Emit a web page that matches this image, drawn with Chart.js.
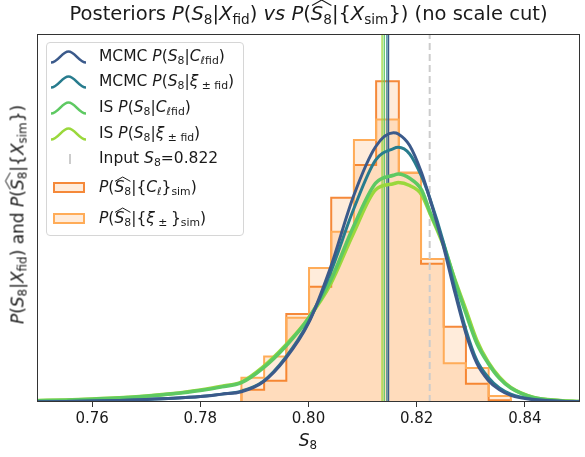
<!DOCTYPE html>
<html>
<head>
<meta charset="utf-8">
<script src="https://cdn.jsdelivr.net/npm/chart.js@4.4.1/dist/chart.umd.min.js"></script>
<style>
html, body { margin: 0; padding: 0; background: #fff; }
#wrap { position: relative; width: 585px; height: 457px; font-family: "DejaVu Sans", sans-serif; color: #1a1a1a; }
#chart { position: absolute; left: 0; top: 0; }
.txt { position: absolute; white-space: nowrap; line-height: 1; }
sub { font-size: 70%; vertical-align: -0.28em; line-height: 0; }
.hat { position: relative; display: inline-block; }
.hat svg { position: absolute; left: 4%; top: -0.22em; width: 92%; height: 0.28em; overflow: visible; }
#title { left: 38px; width: 541px; top: 4px; text-align: center; font-size: 19.5px; }
#ylabel { left: -182px; width: 400px; top: 206px; text-align: center; font-size: 17px; transform: rotate(-90deg); }
#xlabel { left: 258px; width: 100px; top: 432px; text-align: center; font-size: 17px; }
#legend { position: absolute; left: 46px; top: 42px; width: 196px; height: 192px; border: 1px solid #d6d6d6; border-radius: 4px; background: rgba(255,255,255,0.8); font-size: 15.5px; }
.row { position: absolute; left: 0; width: 196px; height: 0; }
.row .lab { position: absolute; left: 52px; top: -8px; white-space: nowrap; line-height: 1; }
.row svg.bell { position: absolute; left: 4px; top: -6px; width: 35px; height: 12px; overflow: visible; }
.row .tick { position: absolute; left: 22px; top: -5px; width: 2px; height: 10px; background: #cccccc; }
.row .box { position: absolute; left: 6px; top: -6px; width: 28px; height: 7px; border: 2.5px solid; }
</style>
</head>
<body>
<div id="wrap">
  <canvas id="chart" width="585" height="457"></canvas>
  <div class="txt" id="title">Posteriors <i>P</i>(<i>S</i><sub>8</sub>|<i>X</i><sub>fid</sub>) <i>vs</i> <i>P</i>(<span class="hat"><i>S</i><sub>8</sub><svg viewBox="0 0 20 6" preserveAspectRatio="none"><polyline points="0,6 10,0 20,6" fill="none" stroke="#1a1a1a" stroke-width="1.1" vector-effect="non-scaling-stroke"/></svg></span>|{<i>X</i><sub>sim</sub>}) (no scale cut)</div>
  <div class="txt" id="ylabel"><i>P</i>(<i>S</i><sub>8</sub>|<i>X</i><sub>fid</sub>) and <i>P</i>(<span class="hat"><i>S</i><sub>8</sub><svg viewBox="0 0 20 6" preserveAspectRatio="none"><polyline points="0,6 10,0 20,6" fill="none" stroke="#1a1a1a" stroke-width="1" vector-effect="non-scaling-stroke"/></svg></span>|{<i>X</i><sub>sim</sub>})</div>
  <div class="txt" id="xlabel"><i>S</i><sub>8</sub></div>
  <div id="legend"></div>
</div>
<script>
// S8 grid the posterior curves were read on
const s8Grid = [0.750, 0.755, 0.760, 0.765, 0.770, 0.775, 0.780, 0.784, 0.7876, 0.7916,
  0.7958, 0.800, 0.804, 0.8083, 0.8124, 0.8157, 0.8166, 0.8187, 0.8209, 0.8224,
  0.8249, 0.8271, 0.8291, 0.8311, 0.8332, 0.8353, 0.8374, 0.8415, 0.8465, 0.850];
const mcmcCl = [0.05, 0.08, 0.15, 0.25, 0.4, 0.6, 0.9, 1.3, 1.7, 3.3,
  7.2, 13.0, 22.0, 33.9, 42.1, 44.4, 44.2, 42.3, 37.8, 33.6,
  25.8, 17.9, 11.3, 6.4, 3.6, 2.0, 1.1, 0.4, 0.12, 0.05];
const mcmcXi = [0.05, 0.08, 0.15, 0.25, 0.4, 0.6, 0.9, 1.3, 1.8, 3.4,
  7.4, 13.2, 21.2, 31.7, 39.9, 41.8, 42.0, 40.9, 37.2, 33.7,
  26.5, 18.5, 11.9, 6.9, 4.1, 2.3, 1.3, 0.45, 0.14, 0.05];
const isCl = [0.2, 0.3, 0.45, 0.65, 0.95, 1.35, 1.9, 2.5, 3.2, 5.6,
  9.2, 13.8, 19.9, 28.9, 36.1, 37.4, 37.6, 36.9, 35.0, 31.5,
  26.2, 19.9, 14.6, 9.7, 6.4, 3.9, 2.3, 0.75, 0.22, 0.08];
const isXi = [0.25, 0.35, 0.5, 0.7, 1.0, 1.4, 2.0, 2.6, 3.3, 5.8,
  9.4, 13.8, 19.3, 27.8, 35.0, 36.0, 36.2, 35.7, 34.2, 31.2,
  25.9, 20.1, 15.2, 10.2, 6.6, 4.1, 2.4, 0.8, 0.25, 0.1];

// histograms of S8 estimated from the simulations (density)
const binEdges = [0.7876, 0.7918, 0.7959, 0.8001, 0.8042, 0.8084, 0.8125,
  0.8167, 0.8208, 0.8250, 0.8291, 0.8333, 0.8374];
const histCl = [2.0, 3.5, 14.5, 19.0, 33.7, 39.1, 52.9, 37.8, 22.8, 12.4, 3.0, 0.3];
const histXi = [4.0, 7.5, 13.9, 22.1, 28.1, 43.2, 46.6, 37.8, 23.6, 6.4, 5.6, 1.0];

// posterior means and the input value
const meanMcmcCl = 0.8148;
const meanMcmcXi = 0.8145;
const meanIsCl = 0.8140;
const meanIsXi = 0.8136;
const inputS8 = 0.8224;

const xTicks = [0.76, 0.78, 0.80, 0.82, 0.84];
const xMin = 0.75, xMax = 0.85, yMax = 60.7;

const colMcmcCl = '#3b5a8b';
const colMcmcXi = '#287c8e';
const colIsCl = '#5ec962';
const colIsXi = '#9ad83c';
const edgeCl = '#f5893a';
const edgeXi = '#ffac58';
const histFill = 'rgba(255,127,14,0.15)';

const curve = (label, ys, color, w) => ({
  label, data: s8Grid.map((x, i) => ({x, y: ys[i]})),
  borderColor: color, borderWidth: w, pointRadius: 0, fill: false,
  cubicInterpolationMode: 'monotone', order: 0
});
const vline = (label, x, color, w, dash) => ({
  label, data: [{x, y: 0}, {x, y: yMax}],
  borderColor: color, borderWidth: w, borderDash: dash || [], pointRadius: 0, fill: false, order: 1
});
const hist = (label, h, edge, ord) => {
  const pts = [{x: binEdges[0], y: 0}];
  h.forEach((v, i) => pts.push({x: binEdges[i], y: v}));
  pts.push({x: binEdges[binEdges.length - 1], y: 0});
  return {label, data: pts, stepped: true, borderColor: edge, borderWidth: 2,
    backgroundColor: histFill, fill: 'origin', pointRadius: 0, order: ord};
};

const frame = {
  id: 'frame',
  afterDatasetsDraw(chart) {
    const a = chart.chartArea, ctx = chart.ctx;
    ctx.save();
    ctx.strokeStyle = '#333';
    ctx.lineWidth = 1;
    ctx.strokeRect(Math.round(a.left) - 0.5, Math.round(a.top) + 0.5,
      Math.round(a.right - a.left) + 1, Math.round(a.bottom - a.top) - 1);
    ctx.restore();
  }
};

new Chart(document.getElementById('chart').getContext('2d'), {
  type: 'line',
  data: {
    datasets: [
      curve('MCMC P(S8|Cl fid)', mcmcCl, colMcmcCl, 3),
      curve('MCMC P(S8|xi fid)', mcmcXi, colMcmcXi, 3),
      curve('IS P(S8|Cl fid)', isCl, colIsCl, 3.5),
      curve('IS P(S8|xi fid)', isXi, colIsXi, 3.5),
      vline('mean MCMC Cl', meanMcmcCl, colMcmcCl, 1.3),
      vline('mean MCMC xi', meanMcmcXi, colMcmcXi, 1.3),
      vline('mean IS Cl', meanIsCl, colIsCl, 1.3),
      vline('mean IS xi', meanIsXi, colIsXi, 1.3),
      Object.assign(vline('Input S8=0.822', inputS8, '#cccccc', 2, [7, 4]), {order: 2}),
      hist('P(S8^|{Cl}sim)', histCl, edgeCl, 4),
      hist('P(S8^|{xi}sim)', histXi, edgeXi, 3)
    ]
  },
  options: {
    responsive: false,
    animation: false,
    layout: {padding: {left: 38, right: 6, top: 34, bottom: 0}},
    plugins: {legend: {display: false}, tooltip: {enabled: false}},
    scales: {
      x: {
        type: 'linear', min: xMin, max: xMax,
        afterBuildTicks: s => { s.ticks = xTicks.map(v => ({value: v})); },
        afterFit: s => { s.height = 55; },
        grid: {drawOnChartArea: false, drawTicks: true, tickLength: 5, tickColor: '#333', tickWidth: 1},
        border: {display: false},
        ticks: {color: '#1a1a1a', padding: 3, font: {family: 'DejaVu Sans', size: 15},
          callback: v => v.toFixed(2)}
      },
      y: {type: 'linear', min: 0, max: yMax, display: false}
    }
  },
  plugins: [frame]
});

// legend, drawn as html so the maths can be formatted
const hatS8 = '<span class="hat"><i>S</i><sub>8</sub><svg viewBox="0 0 20 6" preserveAspectRatio="none"><polyline points="0,6 10,0 20,6" fill="none" stroke="#1a1a1a" stroke-width="1" vector-effect="non-scaling-stroke"/></svg></span>';
const legendRows = [
  {y: 14, kind: 'bell', color: colMcmcCl, html: 'MCMC <i>P</i>(<i>S</i><sub>8</sub>|<i>C</i><sub><i>ℓ</i>fid</sub>)'},
  {y: 39, kind: 'bell', color: colMcmcXi, html: 'MCMC <i>P</i>(<i>S</i><sub>8</sub>|<i>ξ</i><sub> ± fid</sub>)'},
  {y: 65, kind: 'bell', color: colIsCl, html: 'IS <i>P</i>(<i>S</i><sub>8</sub>|<i>C</i><sub><i>ℓ</i>fid</sub>)'},
  {y: 91, kind: 'bell', color: colIsXi, html: 'IS <i>P</i>(<i>S</i><sub>8</sub>|<i>ξ</i><sub> ± fid</sub>)'},
  {y: 116, kind: 'tick', color: '#cccccc', html: 'Input <i>S</i><sub>8</sub>=0.822'},
  {y: 145, kind: 'box', color: edgeCl, html: '<i>P</i>(' + hatS8 + '|{<i>C</i><sub><i>ℓ</i></sub>}<sub>sim</sub>)'},
  {y: 176, kind: 'box', color: edgeXi, html: '<i>P</i>(' + hatS8 + '|{<i>ξ</i><sub> ± </sub>}<sub>sim</sub>)'}
];
const legend = document.getElementById('legend');
legendRows.forEach(r => {
  const row = document.createElement('div');
  row.className = 'row';
  row.style.top = r.y + 'px';
  let handle = '';
  if (r.kind === 'bell') {
    handle = '<svg class="bell" viewBox="0 0 35 12"><path d="M0,11.5 C7,11.5 11,0.5 17.5,0.5 C24,0.5 28,11.5 35,11.5" fill="none" stroke="' + r.color + '" stroke-width="2.6"/></svg>';
  } else if (r.kind === 'tick') {
    handle = '<div class="tick"></div>';
  } else {
    handle = '<div class="box" style="border-color:' + r.color + ';background:' + histFill + '"></div>';
  }
  row.innerHTML = handle + '<span class="lab">' + r.html + '</span>';
  legend.appendChild(row);
});
</script>
</body>
</html>
